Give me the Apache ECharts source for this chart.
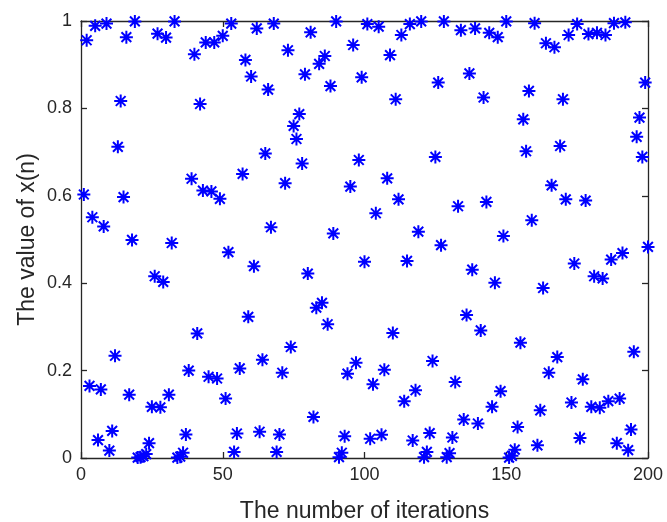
<!DOCTYPE html>
<html>
<head>
<meta charset="utf-8">
<script src="https://cdn.jsdelivr.net/npm/echarts@6/dist/echarts.min.js"></script>
<style>
  html, body { margin: 0; padding: 0; background: #ffffff; }
  #chart { width: 667px; height: 522px; }
</style>
</head>
<body>
<div id="chart"></div>
<script>
// x(n) values, n = 1..200
const values1to50 = [
  0.603, 0.956, 0.165, 0.551, 0.989, 0.041, 0.157, 0.530, 0.994, 0.017,
  0.062, 0.234, 0.712, 0.817, 0.597, 0.963, 0.145, 0.499, 0.999, 0.001,
  0.002, 0.004, 0.009, 0.034, 0.117, 0.416, 0.971, 0.116, 0.403, 0.962,
  0.145, 0.492, 0.999, 0.001, 0.003, 0.012, 0.054, 0.200, 0.639, 0.924,
  0.285, 0.810, 0.612, 0.951, 0.186, 0.610, 0.951, 0.182, 0.593, 0.966
];
const values51to100 = [
  0.136, 0.471, 0.994, 0.014, 0.056, 0.205, 0.650, 0.911, 0.323, 0.873,
  0.439, 0.983, 0.060, 0.225, 0.697, 0.843, 0.528, 0.994, 0.014, 0.054,
  0.195, 0.629, 0.933, 0.254, 0.760, 0.730, 0.787, 0.674, 0.878, 0.422,
  0.974, 0.094, 0.344, 0.902, 0.355, 0.920, 0.306, 0.851, 0.514, 0.999,
  0.002, 0.012, 0.050, 0.193, 0.621, 0.945, 0.218, 0.682, 0.871, 0.449
];
const values101to150 = [
  0.993, 0.044, 0.169, 0.560, 0.987, 0.053, 0.202, 0.640, 0.922, 0.286,
  0.821, 0.592, 0.968, 0.130, 0.451, 0.993, 0.040, 0.155, 0.518, 0.999,
  0.002, 0.014, 0.057, 0.222, 0.689, 0.859, 0.487, 0.999, 0.002, 0.011,
  0.047, 0.174, 0.576, 0.979, 0.088, 0.327, 0.880, 0.431, 0.983, 0.079,
  0.292, 0.825, 0.586, 0.973, 0.117, 0.401, 0.963, 0.153, 0.508, 0.999
];
const values151to200 = [
  0.001, 0.005, 0.019, 0.071, 0.264, 0.775, 0.702, 0.840, 0.544, 0.995,
  0.029, 0.109, 0.389, 0.949, 0.195, 0.624, 0.940, 0.231, 0.714, 0.821,
  0.592, 0.968, 0.127, 0.445, 0.993, 0.046, 0.180, 0.589, 0.970, 0.117,
  0.416, 0.973, 0.115, 0.411, 0.968, 0.130, 0.454, 0.995, 0.034, 0.136,
  0.469, 0.997, 0.018, 0.065, 0.243, 0.735, 0.779, 0.689, 0.859, 0.483
];
const xTicks = [0, 50, 100, 150, 200];
const yTicks = [0, 0.2, 0.4, 0.6, 0.8, 1];
const xTitle = 'The number of iterations';
const yTitle = 'The value of x(n)';

const values = [].concat(values1to50, values51to100, values101to150, values151to200);
const points = values.map((v, i) => [i + 1, v]);

const AX = '#262626';
const FONT = '"Liberation Sans", Arial, Helvetica, sans-serif';
const star = 'path://M0,-10L0,10M-10,0L10,0M-7.5,-7.5L7.5,7.5M-7.5,7.5L7.5,-7.5';

const chart = echarts.init(document.getElementById('chart'), null, { renderer: 'canvas' });
const baseX = {
  type: 'value', min: xTicks[0], max: xTicks[xTicks.length - 1], interval: 50,
  axisLine: { show: true, onZero: false, lineStyle: { color: AX, width: 1.3 } },
  axisTick: { show: true, inside: true, length: 6, lineStyle: { color: AX, width: 1.3 } },
  splitLine: { show: false }
};
const baseY = {
  type: 'value', min: yTicks[0], max: yTicks[yTicks.length - 1], interval: 0.2,
  axisLine: { show: true, onZero: false, lineStyle: { color: AX, width: 1.3 } },
  axisTick: { show: true, inside: true, length: 6, lineStyle: { color: AX, width: 1.3 } },
  splitLine: { show: false }
};
chart.setOption({
  animation: false,
  backgroundColor: '#ffffff',
  grid: { left: 81, right: 19, top: 21, bottom: 64, containLabel: false, outerBoundsMode: 'none' },
  xAxis: [
    Object.assign({}, baseX, {
      position: 'bottom',
      axisLabel: { show: true, color: AX, fontSize: 18, fontFamily: FONT, margin: 8 },
      name: xTitle, nameLocation: 'middle', nameGap: 42, nameMoveOverlap: false,
      nameTextStyle: { color: AX, fontSize: 23, fontFamily: FONT }
    }),
    Object.assign({}, baseX, { position: 'top', axisLabel: { show: false } })
  ],
  yAxis: [
    Object.assign({}, baseY, {
      position: 'left',
      axisLabel: { show: true, color: AX, fontSize: 18, fontFamily: FONT, margin: 9,
        formatter: v => String(+v.toFixed(1)) },
      name: yTitle, nameLocation: 'middle', nameGap: 42, nameMoveOverlap: false,
      nameTextStyle: { color: AX, fontSize: 23, fontFamily: FONT }
    }),
    Object.assign({}, baseY, { position: 'right', axisLabel: { show: false } })
  ],
  series: [{
    type: 'scatter',
    xAxisIndex: 0, yAxisIndex: 0,
    data: points,
    symbol: star,
    symbolSize: 13,
    itemStyle: { color: 'rgba(0,0,0,0)', borderColor: '#0000ff', borderWidth: 2, opacity: 1 },
    emphasis: { disabled: true },
    clip: false
  }]
});
</script>
</body>
</html>
